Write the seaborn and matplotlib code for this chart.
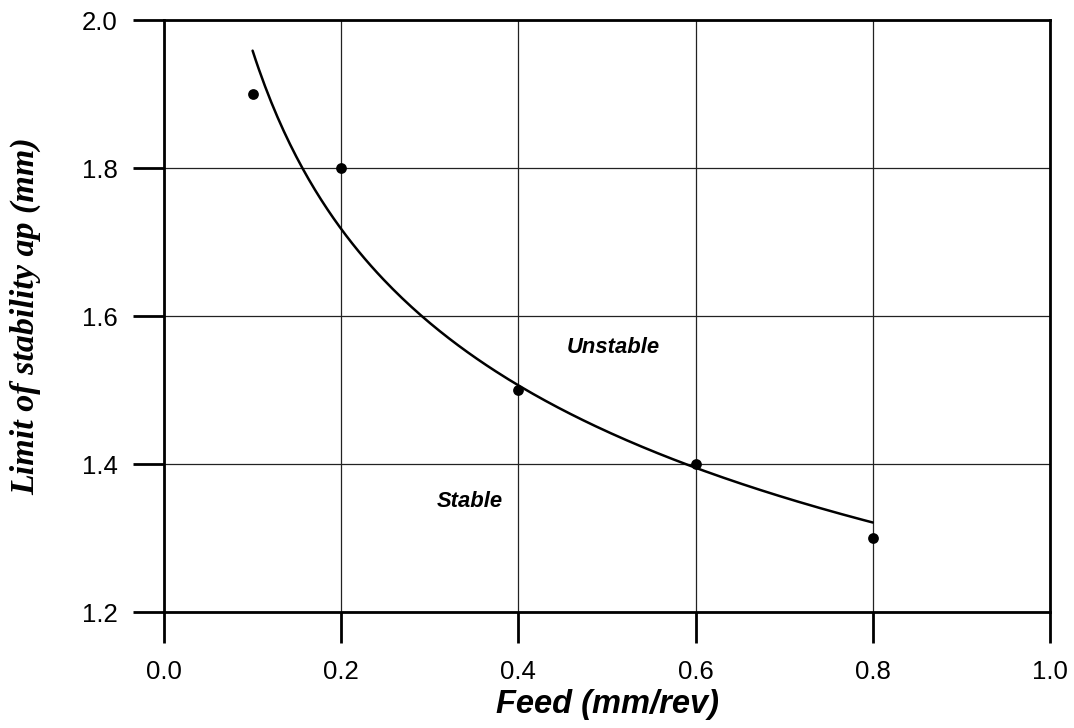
import numpy as np
import pandas as pd
import matplotlib
matplotlib.use("Agg")
import matplotlib.pyplot as plt
import seaborn as sns

# Data
feed = [0.1, 0.2, 0.4, 0.6, 0.8]
ap_limit = [1.9, 1.8, 1.5, 1.4, 1.3]
x_ticks = [0.0, 0.2, 0.4, 0.6, 0.8, 1.0]
y_ticks = [1.2, 1.4, 1.6, 1.8, 2.0]

sns.set_style("white")
plt.rcParams['font.family'] = ['Liberation Sans', 'DejaVu Sans']
plt.rcParams['text.color'] = 'black'
plt.rcParams['axes.labelcolor'] = 'black'
plt.rcParams['xtick.bottom'] = True
plt.rcParams['ytick.left'] = True

df = pd.DataFrame({"feed": feed, "ap": ap_limit})

# Power-law trend fitted to the data (log-log regression)
b, ln_a = np.polyfit(np.log(df["feed"]), np.log(df["ap"]), 1)
xf = np.linspace(min(feed), max(feed), 200)
fit = pd.DataFrame({"feed": xf, "ap": np.exp(ln_a) * xf ** b})

fig = plt.figure(figsize=(10.74, 7.28), dpi=100)
ax = fig.add_axes([164 / 1074, 1 - 612 / 728, (1050 - 164) / 1074, (612 - 20) / 728])

sns.lineplot(data=fit, x="feed", y="ap", ax=ax, color="black", linewidth=1.8)
sns.scatterplot(data=df, x="feed", y="ap", ax=ax, color="black", s=60,
                edgecolor="black", linewidth=0, zorder=5)

ax.set_xlim(0.0, 1.0)
ax.set_ylim(1.2, 2.0)
ax.set_xticks(x_ticks)
ax.set_yticks(y_ticks)
ax.set_xticklabels([f"{v:.1f}" for v in x_ticks])
ax.set_yticklabels([f"{v:.1f}" for v in y_ticks])
ax.tick_params(axis="both", which="major", bottom=True, left=True,
               direction="out", length=22.5, width=2.0,
               labelsize=18.5, color="black", labelcolor="black")
ax.tick_params(axis="x", pad=12)
ax.tick_params(axis="y", pad=11)
ax.grid(True, color="#222222", linewidth=0.9)
for s in ax.spines.values():
    s.set_color("black")
    s.set_linewidth(2.0)

ax.set_xlabel("Feed (mm/rev)", fontsize=23.5, fontweight="bold", fontstyle="italic")
ax.xaxis.set_label_coords(0.5, -(705 - 612) / 592)
ax.xaxis.label.set_va("center")
ax.set_ylabel("Limit of stability ap (mm)", fontsize=24.5, fontweight="bold",
              fontstyle="italic", family=["Liberation Serif", "DejaVu Serif"])
ax.yaxis.set_label_coords(-(164 - 26) / 886, 0.5)
ax.yaxis.label.set_va("center")

ax.text(0.507, 1.558, "Unstable", ha="center", va="center", fontsize=15.8,
        fontweight="bold", fontstyle="italic", color="black")
ax.text(0.345, 1.349, "Stable", ha="center", va="center", fontsize=15.8,
        fontweight="bold", fontstyle="italic", color="black")

fig.savefig("out.png", dpi=100)
